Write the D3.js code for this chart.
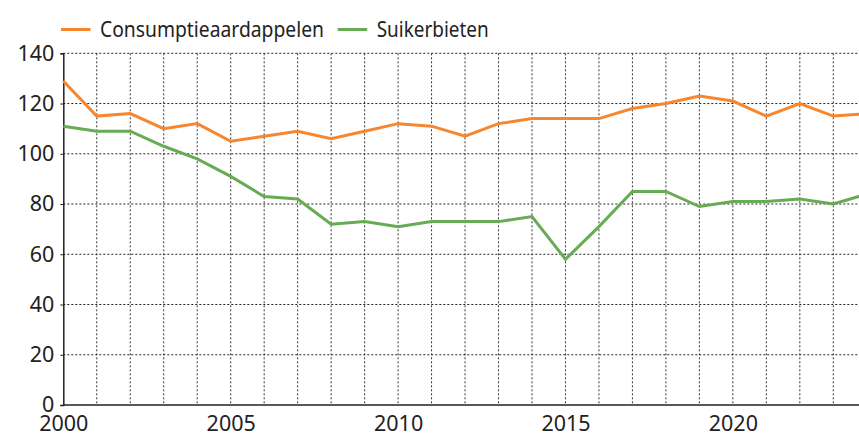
<!DOCTYPE html>
<html>
<head>
<meta charset="utf-8">
<script src="https://cdn.jsdelivr.net/npm/d3@7"></script>
<style>
  html, body { margin: 0; padding: 0; background: #fff; }
  svg { display: block; }
  text { font-family: "Noto Sans", "Open Sans", sans-serif; fill: #222; }
</style>
</head>
<body>
<svg id="chart" width="859" height="435"></svg>
<script>
// jaren
const years = [2000, 2001, 2002, 2003, 2004, 2005, 2006, 2007, 2008, 2009, 2010, 2011,
  2012, 2013, 2014, 2015, 2016, 2017, 2018, 2019, 2020, 2021, 2022, 2023, 2024];

// reeksen
const consumptieaardappelen = [129, 115, 116, 110, 112, 105, 107, 109, 106, 109, 112, 111,
  107, 112, 114, 114, 114, 118, 120, 123, 121, 115, 120, 115, 116];
const suikerbieten = [111, 109, 109, 103, 98, 91, 83, 82, 72, 73, 71, 73,
  73, 73, 75, 58, 71, 85, 85, 79, 81, 81, 82, 80, 84];

const seriesNames = ["Consumptieaardappelen", "Suikerbieten"];
const seriesColors = ["#f7862f", "#67ab55"];

const yTicks = [0, 20, 40, 60, 80, 100, 120, 140];
const xLabelYears = [2000, 2005, 2010, 2015, 2020];

const svg = d3.select("#chart");
const plotLeft = 63.3, plotTop = 53.3, plotBottom = 405, plotRight = 859;

const x = d3.scaleLinear().domain([2000, 2023]).range([plotLeft, 833.3]);
const y = d3.scaleLinear().domain([0, 140]).range([plotBottom, plotTop]);

// raster horizontaal
svg.append("g")
  .selectAll("line")
  .data(yTicks.filter(d => d > 0))
  .enter()
  .append("line")
  .attr("x1", plotLeft)
  .attr("x2", plotRight)
  .attr("y1", d => y(d))
  .attr("y2", d => y(d))
  .attr("stroke", "#222")
  .attr("stroke-width", 1)
  .attr("stroke-dasharray", "2,2");

// raster verticaal
svg.append("g")
  .selectAll("line")
  .data(years.filter(d => d > 2000))
  .enter()
  .append("line")
  .attr("x1", d => x(d))
  .attr("x2", d => x(d))
  .attr("y1", plotTop)
  .attr("y2", plotBottom)
  .attr("stroke", "#333")
  .attr("stroke-width", 1)
  .attr("stroke-dasharray", "2,2");

// y-as
const yAxis = svg.append("g")
  .attr("transform", `translate(${plotLeft},0)`)
  .call(d3.axisLeft(y).tickValues(yTicks).tickSize(3).tickPadding(6));
yAxis.select(".domain").attr("stroke", "#222").attr("stroke-width", 1.5);
yAxis.selectAll("line").attr("stroke", "#222");
yAxis.selectAll("text")
  .style("font-family", '"Noto Sans", sans-serif')
  .attr("font-size", 21.5)
  .attr("fill", "#222");

// x-as
const xAxis = svg.append("g")
  .attr("transform", `translate(0,${plotBottom})`)
  .call(d3.axisBottom(x).tickValues(xLabelYears).tickFormat(d3.format("d")).tickSize(0).tickPadding(11));
xAxis.select(".domain").remove();
xAxis.selectAll("text")
  .style("font-family", '"Noto Sans", sans-serif')
  .attr("font-size", 21.5)
  .attr("fill", "#222");
svg.append("line")
  .attr("x1", plotLeft).attr("x2", plotRight)
  .attr("y1", plotBottom).attr("y2", plotBottom)
  .attr("stroke", "#222").attr("stroke-width", 1.5);

// lijnen
const line = d3.line()
  .x((d, i) => x(years[i]))
  .y(d => y(d));

[consumptieaardappelen, suikerbieten].forEach((values, i) => {
  svg.append("path")
    .datum(values)
    .attr("d", line)
    .attr("fill", "none")
    .attr("stroke", seriesColors[i])
    .attr("stroke-width", 3)
    .attr("stroke-linejoin", "miter");
});

// legenda
const legendX = [61, 337.7];
const legendW = [224, 112];
const legend = svg.append("g");
seriesNames.forEach((name, i) => {
  legend.append("line")
    .attr("x1", legendX[i]).attr("x2", legendX[i] + 29.5)
    .attr("y1", 29.5).attr("y2", 29.5)
    .attr("stroke", seriesColors[i])
    .attr("stroke-width", 3);
  legend.append("text")
    .attr("x", legendX[i] + 39)
    .attr("y", 37)
    .attr("font-size", 21)
    .attr("textLength", legendW[i])
    .attr("lengthAdjust", "spacingAndGlyphs")
    .text(name);
});
</script>
</body>
</html>
